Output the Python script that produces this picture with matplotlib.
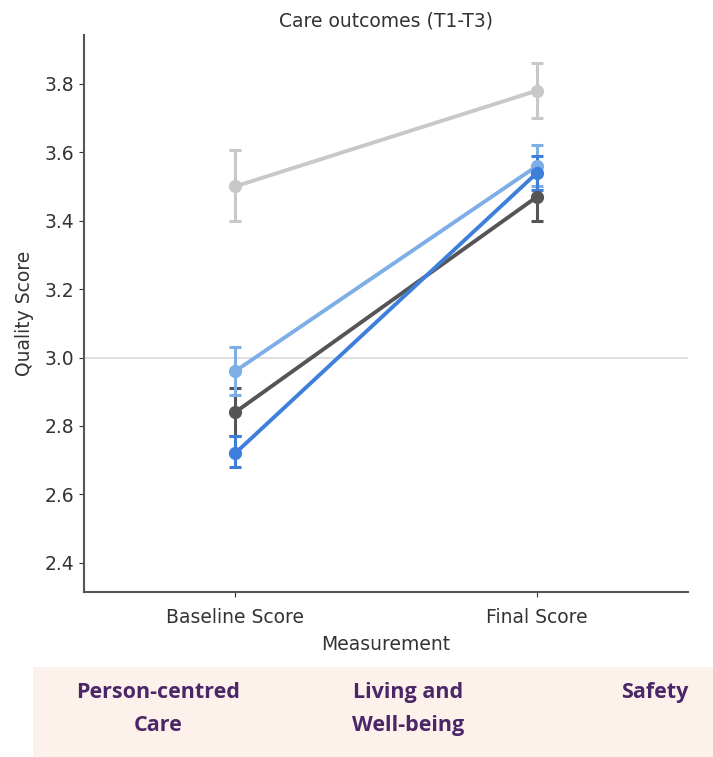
import matplotlib.pyplot as plt
from matplotlib.patches import Rectangle

plt.rcParams['font.family'] = ['DejaVu Sans']

# Measurement points
measurements = ['Baseline Score', 'Final Score']

# Mean scores and 95% CI for each group
gray_mean = [3.50, 3.78]
gray_lo = [3.40, 3.70]
gray_hi = [3.605, 3.86]

dark_mean = [2.84, 3.47]
dark_lo = [2.77, 3.40]
dark_hi = [2.91, 3.54]

light_mean = [2.96, 3.56]
light_lo = [2.89, 3.50]
light_hi = [3.03, 3.62]

blue_mean = [2.72, 3.54]
blue_lo = [2.68, 3.49]
blue_hi = [2.77, 3.59]

panel_labels = ['Person-centred\nCare', 'Living and\nWell-being', 'Safety']

fig = plt.figure(figsize=(7.13, 7.57), dpi=100)
ax = fig.add_axes([0.118, 0.218, 0.847, 0.736])

x = list(range(len(measurements)))
series = [
    (gray_mean, gray_lo, gray_hi, '#c8c8c8'),
    (dark_mean, dark_lo, dark_hi, '#555555'),
    (light_mean, light_lo, light_hi, '#7eaee6'),
    (blue_mean, blue_lo, blue_hi, '#3f7fdc'),
]
for mean, lo, hi, col in series:
    err = [[m - l for m, l in zip(mean, lo)], [h - m for m, h in zip(mean, hi)]]
    ax.errorbar(x, mean, yerr=err, color=col, marker='o', markersize=8.5,
                linewidth=2.8, elinewidth=2.2, capsize=4, capthick=2.2)

ax.axhline(3.0, color='#d9d9d9', linewidth=1.2, zorder=0)

ax.set_xlim(-0.5, 1.5)
ax.set_ylim(2.315, 3.943)
ax.set_yticks([2.4, 2.6, 2.8, 3.0, 3.2, 3.4, 3.6, 3.8])
ax.set_xticks(x)
ax.set_xticklabels(measurements)
ax.tick_params(labelsize=13.5, colors='#333333')
ax.tick_params(axis='x', pad=8)
ax.set_xlabel('Measurement', fontsize=13.5, color='#333333', labelpad=6)
ax.set_ylabel('Quality Score', fontsize=13.5, color='#333333', labelpad=8)
ax.set_title('Care outcomes (T1-T3)', fontsize=13.5, color='#333333')
for s in ['top', 'right']:
    ax.spines[s].set_visible(False)
for s in ['left', 'bottom']:
    ax.spines[s].set_color('#555555')
    ax.spines[s].set_linewidth(1.5)

# Beige domain panel at the bottom
fig.patches.append(Rectangle((0.046, 0.0), 0.954, 0.119, transform=fig.transFigure,
                             facecolor='#fcf1eb', edgecolor='none'))
text_x = [158, 408, 655]
for tx, lab in zip(text_x, panel_labels):
    fig.text(tx / 713, 1 - 682 / 757, lab, ha='center', va='top', fontsize=15.5,
             fontweight='bold', color='#4b2767', family='Open Sans', linespacing=1.75)

fig.savefig('out.png', dpi=100)
